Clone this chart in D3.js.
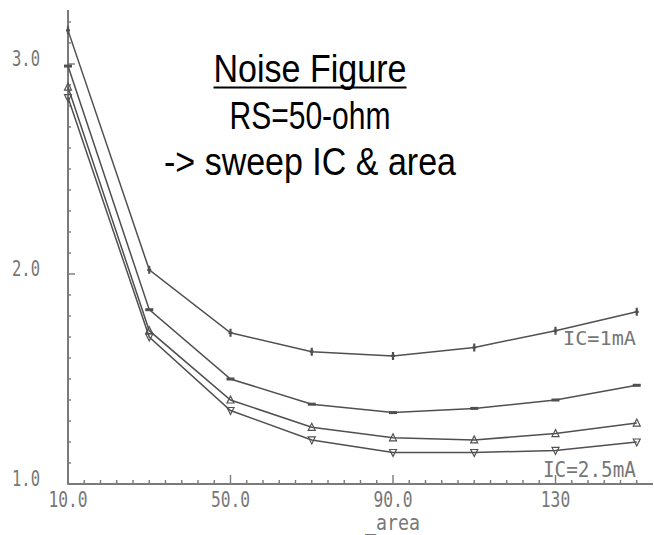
<!DOCTYPE html>
<html>
<head>
<meta charset="utf-8">
<script src="https://cdn.jsdelivr.net/npm/d3@7"></script>
<style>
  html, body { margin: 0; padding: 0; background: #fff; }
  svg { display: block; }
  .tick-label { font-family: "DejaVu Sans Mono", monospace; font-size: 22px; fill: #777; }
  .title { font-family: "Liberation Sans Narrow", "Arial Narrow", "Liberation Sans", Arial, sans-serif; font-size: 38px; fill: #000; }
</style>
</head>
<body>
<script>
// area sweep (x) and noise figure per IC curve
const area = [10, 30, 50, 70, 90, 110, 130, 150];
const nf_ic1 = [3.16, 2.02, 1.72, 1.63, 1.61, 1.65, 1.73, 1.82];
const nf_ic2 = [2.99, 1.83, 1.50, 1.38, 1.34, 1.36, 1.40, 1.47];
const nf_ic3 = [2.89, 1.73, 1.40, 1.27, 1.22, 1.21, 1.24, 1.29];
const nf_ic4 = [2.84, 1.70, 1.35, 1.21, 1.15, 1.15, 1.16, 1.20];
const seriesMarkers = ["plus", "dash", "tri", "itri"];
const xTickLabels = ["10.0", "50.0", "90.0", "130"];
const xTickValues = [10, 50, 90, 130];
const yTickLabels = ["1.0", "2.0", "3.0"];
const yTickValues = [1, 2, 3];

const W = 654, H = 535;
const svg = d3.select("body").append("svg").attr("width", W).attr("height", H);

const x = d3.scaleLinear().domain([10, 154]).range([68, 653]);
const y = d3.scaleLinear().domain([1.0, 3.257]).range([484, 10]);

const axisCol = "#7a7a7a";

// axes lines
svg.append("line").attr("x1", x(10)).attr("x2", x(154)).attr("y1", y(1)).attr("y2", y(1))
  .attr("stroke", axisCol).attr("stroke-width", 2);
svg.append("line").attr("x1", x(10)).attr("x2", x(10)).attr("y1", y(1)).attr("y2", y(3.257))
  .attr("stroke", axisCol).attr("stroke-width", 2);

// x ticks (minor every 4, major at labels)
const xMinor = d3.range(10, 154, 4);
svg.append("g").selectAll("line").data(xMinor).enter().append("line")
  .attr("x1", d => x(d)).attr("x2", d => x(d))
  .attr("y1", y(1)).attr("y2", d => y(1) - (xTickValues.includes(d) ? 9 : 4))
  .attr("stroke", axisCol).attr("stroke-width", 1.4);

// y ticks (minor every 0.1)
const yMinor = d3.range(10, 33).map(d => d / 10);
svg.append("g").selectAll("line").data(yMinor).enter().append("line")
  .attr("x1", x(10) - 1).attr("x2", d => x(10) + (yTickValues.includes(d) ? 7 : 3))
  .attr("y1", d => y(d)).attr("y2", d => y(d))
  .attr("stroke", axisCol).attr("stroke-width", 1.4);

// tick labels
svg.append("g").selectAll("text").data(xTickValues).enter().append("text")
  .attr("class", "tick-label")
  .attr("x", d => x(d)).attr("y", 507).attr("text-anchor", "middle")
  .attr("textLength", (d, i) => xTickLabels[i].length * 9.8).attr("lengthAdjust", "spacingAndGlyphs")
  .text((d, i) => xTickLabels[i]);

svg.append("g").selectAll("text").data(yTickValues).enter().append("text")
  .attr("class", "tick-label")
  .attr("x", 12).attr("y", d => y(d) + 2)
  .attr("textLength", 28).attr("lengthAdjust", "spacingAndGlyphs")
  .text((d, i) => yTickLabels[i]);

svg.append("text").attr("class", "tick-label")
  .attr("x", 365).attr("y", 530)
  .attr("textLength", 55).attr("lengthAdjust", "spacingAndGlyphs")
  .text("_area");

// curves
const lineCol = "#505050";
const line = d3.line().x(d => x(d[0])).y(d => y(d[1]));
const allSeries = [nf_ic1, nf_ic2, nf_ic3, nf_ic4];

allSeries.forEach((vals, si) => {
  const pts = area.map((a, i) => [a, vals[i]]);
  svg.append("path").datum(pts).attr("d", line)
    .attr("fill", "none").attr("stroke", lineCol).attr("stroke-width", 1.5);

  const g = svg.append("g").attr("stroke", lineCol).attr("stroke-width", 1.2).attr("fill", "none");
  pts.forEach(p => {
    const cx = x(p[0]), cy = y(p[1]);
    const m = seriesMarkers[si];
    if (m === "plus") {
      g.append("path").attr("d", `M${cx},${cy - 4}V${cy + 4}M${cx - 2},${cy}H${cx + 2}`).attr("stroke-width", 2.2);
    } else if (m === "dash") {
      g.append("rect").attr("x", cx - 4).attr("y", cy - 1.5).attr("width", 8).attr("height", 3)
        .attr("fill", lineCol).attr("stroke", "none");
    } else if (m === "tri") {
      g.append("path").attr("d", `M${cx},${cy - 4}L${cx + 3.5},${cy + 3}L${cx - 3.5},${cy + 3}Z`);
    } else {
      g.append("path").attr("d", `M${cx},${cy + 4}L${cx + 3.5},${cy - 3}L${cx - 3.5},${cy - 3}Z`);
    }
  });
});

// curve labels
svg.append("text").attr("class", "tick-label")
  .attr("x", 636).attr("y", 345).attr("text-anchor", "end")
  .attr("textLength", 73).attr("lengthAdjust", "spacingAndGlyphs")
  .style("font-size", "19px")
  .text("IC=1mA");
svg.append("text").attr("class", "tick-label")
  .attr("x", 636).attr("y", 477).attr("text-anchor", "end")
  .attr("textLength", 93).attr("lengthAdjust", "spacingAndGlyphs")
  .style("font-size", "21px")
  .text("IC=2.5mA");

// title block
const titles = [["Noise Figure", 82, 193], ["RS=50-ohm", 129, 161], ["-> sweep IC & area", 175, 292]];
svg.append("g").selectAll("text").data(titles).enter().append("text")
  .attr("class", "title")
  .attr("x", 310).attr("y", d => d[1]).attr("text-anchor", "middle")
  .attr("textLength", d => d[2]).attr("lengthAdjust", "spacingAndGlyphs")
  .text(d => d[0]);
svg.append("line").attr("x1", 310 - 96.5).attr("x2", 310 + 96.5).attr("y1", 87.5).attr("y2", 87.5)
  .attr("stroke", "#000").attr("stroke-width", 2.2);
</script>
</body>
</html>
